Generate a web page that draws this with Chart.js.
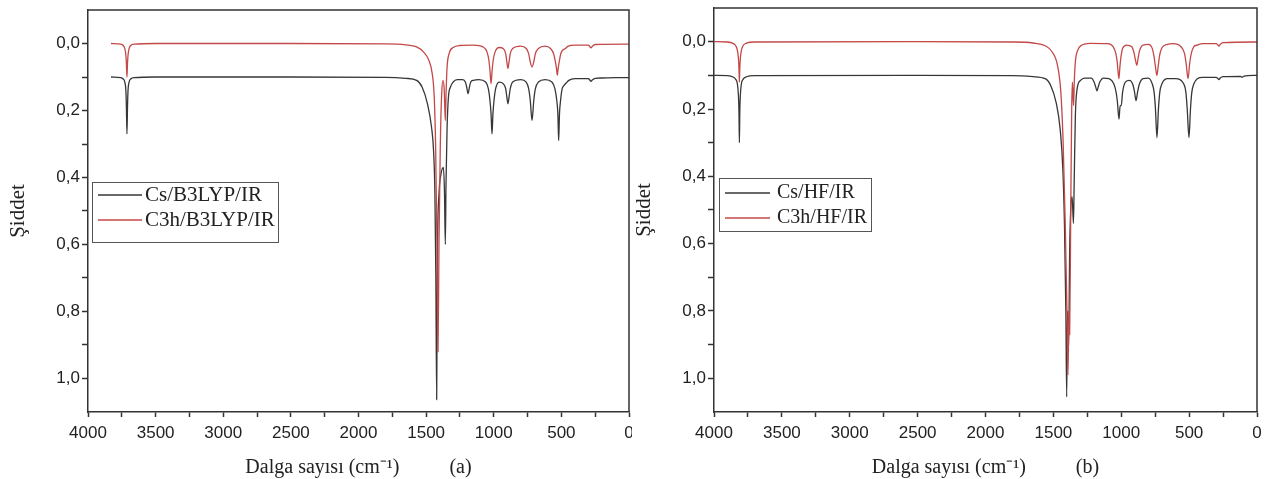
<!DOCTYPE html>
<html>
<head>
<meta charset="utf-8">
<title>IR spektrumları</title>
<script src="https://cdn.jsdelivr.net/npm/chart.js@4.4.1/dist/chart.umd.min.js"></script>
<style>
  body { margin: 0; background: #fff; }
  #wrap { position: relative; width: 1269px; height: 479px; overflow: hidden; }
  canvas { position: absolute; top: 0; }
</style>
</head>
<body>
<div id="wrap">
  <canvas id="chartA" width="632" height="479" style="left:0px"></canvas>
  <canvas id="chartB" width="637" height="479" style="left:632px"></canvas>
</div>
<script>
// [wavenumber cm-1, intensity]
var csB3lyp = [[3830,0.100],[3760,0.102],[3740,0.106],[3728,0.115],[3720,0.14],[3716,0.19],[3712,0.27],[3708,0.19],[3704,0.14],[3696,0.115],[3684,0.106],[3660,0.102],[3500,0.100],[2500,0.100],[1800,0.101],[1650,0.104],[1570,0.11],[1530,0.13],[1490,0.18],[1460,0.25],[1445,0.32],[1435,0.45],[1428,0.7],[1422,1.063],[1416,0.62],[1405,0.45],[1390,0.39],[1372,0.37],[1364,0.45],[1358,0.6],[1353,0.42],[1345,0.25],[1335,0.16],[1320,0.13],[1300,0.115],[1270,0.108],[1230,0.108],[1210,0.115],[1200,0.13],[1190,0.15],[1180,0.13],[1170,0.115],[1150,0.11],[1110,0.108],[1060,0.115],[1040,0.135],[1028,0.17],[1020,0.21],[1013,0.27],[1006,0.21],[998,0.17],[986,0.135],[960,0.115],[930,0.12],[912,0.135],[903,0.16],[895,0.18],[887,0.16],[878,0.135],[860,0.115],[800,0.108],[760,0.115],[742,0.135],[730,0.17],[717,0.23],[704,0.17],[692,0.135],[670,0.115],[620,0.108],[570,0.115],[548,0.135],[534,0.17],[526,0.21],[520,0.29],[514,0.21],[506,0.17],[494,0.135],[480,0.125],[465,0.118],[445,0.11],[400,0.105],[300,0.105],[290,0.109],[281,0.113],[272,0.109],[250,0.104],[200,0.103],[100,0.102],[0,0.102]];
var c3hB3lyp = [[3830,0.0],[3760,0.002],[3740,0.006],[3728,0.015],[3720,0.035],[3716,0.06],[3712,0.10],[3708,0.06],[3704,0.035],[3696,0.015],[3684,0.006],[3660,0.002],[3500,0.0],[2500,0.0],[1800,0.001],[1650,0.004],[1570,0.01],[1520,0.025],[1480,0.05],[1455,0.09],[1440,0.16],[1430,0.3],[1420,0.6],[1412,0.92],[1405,0.6],[1395,0.3],[1385,0.15],[1375,0.11],[1366,0.14],[1358,0.23],[1352,0.14],[1345,0.07],[1330,0.03],[1300,0.012],[1250,0.006],[1150,0.005],[1080,0.01],[1050,0.025],[1036,0.05],[1028,0.08],[1020,0.12],[1012,0.08],[1004,0.05],[990,0.025],[960,0.012],[930,0.015],[912,0.03],[903,0.055],[895,0.075],[887,0.055],[878,0.03],[860,0.015],[800,0.008],[760,0.015],[742,0.03],[730,0.055],[717,0.07],[704,0.055],[692,0.03],[670,0.015],[620,0.008],[580,0.015],[558,0.03],[544,0.055],[536,0.075],[530,0.095],[524,0.075],[516,0.055],[504,0.03],[490,0.02],[470,0.015],[450,0.008],[400,0.005],[300,0.005],[290,0.009],[281,0.013],[272,0.009],[250,0.003],[0,0.002]];
var csHf = [[4000,0.1],[3900,0.101],[3860,0.105],[3840,0.112],[3828,0.125],[3820,0.16],[3816,0.21],[3813,0.30],[3810,0.21],[3806,0.16],[3798,0.125],[3786,0.112],[3765,0.105],[3700,0.101],[2500,0.1],[1800,0.101],[1650,0.104],[1560,0.11],[1520,0.13],[1480,0.18],[1450,0.26],[1430,0.38],[1418,0.55],[1408,0.8],[1402,1.055],[1396,0.8],[1388,0.92],[1380,0.62],[1370,0.48],[1362,0.46],[1352,0.54],[1346,0.4],[1338,0.22],[1325,0.14],[1300,0.115],[1270,0.108],[1220,0.108],[1200,0.12],[1188,0.135],[1179,0.146],[1170,0.135],[1158,0.12],[1130,0.108],[1090,0.11],[1055,0.125],[1038,0.15],[1028,0.18],[1017,0.23],[1008,0.19],[1000,0.19],[990,0.15],[970,0.12],[940,0.115],[914,0.128],[902,0.15],[891,0.175],[880,0.15],[868,0.128],[840,0.11],[800,0.108],[772,0.125],[758,0.15],[748,0.2],[737,0.285],[726,0.2],[716,0.15],[700,0.125],[660,0.11],[600,0.11],[540,0.125],[524,0.15],[514,0.2],[501,0.285],[490,0.2],[480,0.15],[465,0.125],[440,0.11],[400,0.106],[300,0.106],[290,0.109],[280,0.113],[271,0.108],[250,0.104],[120,0.103],[110,0.106],[100,0.103],[0,0.1]];
var c3hHf = [[4000,0.0],[3900,0.001],[3860,0.005],[3840,0.012],[3828,0.025],[3820,0.05],[3816,0.08],[3813,0.12],[3810,0.08],[3806,0.05],[3798,0.025],[3786,0.012],[3765,0.005],[3700,0.001],[2500,0.0],[1800,0.001],[1650,0.004],[1560,0.012],[1510,0.03],[1470,0.07],[1445,0.15],[1428,0.3],[1412,0.55],[1400,0.8],[1392,0.99],[1386,0.8],[1380,0.87],[1372,0.5],[1365,0.2],[1360,0.12],[1355,0.16],[1351,0.19],[1346,0.12],[1338,0.06],[1320,0.025],[1290,0.01],[1230,0.005],[1100,0.006],[1060,0.015],[1040,0.035],[1030,0.06],[1022,0.095],[1017,0.11],[1010,0.075],[1002,0.045],[990,0.02],[960,0.01],[922,0.015],[905,0.035],[895,0.055],[885,0.07],[876,0.05],[866,0.028],[840,0.01],[800,0.008],[772,0.02],[758,0.045],[748,0.075],[737,0.1],[727,0.07],[717,0.04],[700,0.018],[660,0.008],[620,0.006],[560,0.015],[534,0.035],[522,0.065],[508,0.11],[496,0.065],[484,0.035],[465,0.015],[440,0.01],[400,0.006],[300,0.006],[290,0.009],[280,0.013],[271,0.008],[250,0.003],[0,0.001]];

// ticks (labels only on every second one)
var xTicks = [0,250,500,750,1000,1250,1500,1750,2000,2250,2500,2750,3000,3250,3500,3750,4000];
var yTicks = [0,0.1,0.2,0.3,0.4,0.5,0.6,0.7,0.8,0.9,1.0];

var axisColor = '#333';
var darkLine = 'rgb(55,55,55)';
var redLine = 'rgb(196,72,72)';
var serif = '"Liberation Serif", "Times New Roman", serif';

function toPoints(pairs) {
    return pairs.map(function(p) { return {x: p[0], y: p[1]}; });
}

// box round the plot (top and right sides)
var framePlugin = {
    id: 'frame',
    afterDraw: function(chart) {
        var a = chart.chartArea, ctx = chart.ctx;
        ctx.save();
        ctx.strokeStyle = axisColor;
        ctx.lineWidth = 1.5;
        ctx.beginPath();
        ctx.moveTo(a.left, a.top);
        ctx.lineTo(a.right, a.top);
        ctx.lineTo(a.right, a.bottom);
        ctx.stroke();
        ctx.restore();
    }
};

// legend in a framed box inside the plot
var boxLegend = {
    id: 'boxLegend',
    afterDraw: function(chart, args, opts) {
        var ctx = chart.ctx;
        ctx.save();
        ctx.strokeStyle = '#555';
        ctx.lineWidth = 1;
        ctx.strokeRect(opts.x + 0.5, opts.y + 0.5, opts.w, opts.h);
        ctx.font = opts.fontSize + 'px ' + serif;
        ctx.textBaseline = 'middle';
        chart.data.datasets.forEach(function(ds, i) {
            var y = opts.rows[i];
            ctx.strokeStyle = ds.borderColor;
            ctx.lineWidth = 1.3;
            ctx.beginPath();
            ctx.moveTo(opts.lineFrom, y);
            ctx.lineTo(opts.lineTo, y);
            ctx.stroke();
            ctx.fillStyle = '#222';
            ctx.fillText(ds.label, opts.textX, y);
        });
        ctx.restore();
    }
};

function spectrumChart(id, blackSeries, redSeries, labels, cfg) {
    return new Chart(document.getElementById(id), {
        type: 'line',
        data: {
            datasets: [{
                label: labels[0],
                data: toPoints(blackSeries),
                borderColor: darkLine,
                borderWidth: 1.3,
                pointRadius: 0,
                cubicInterpolationMode: 'monotone',
                order: 1
            }, {
                label: labels[1],
                data: toPoints(redSeries),
                borderColor: redLine,
                borderWidth: 1.3,
                pointRadius: 0,
                cubicInterpolationMode: 'monotone',
                order: 0
            }]
        },
        options: {
            responsive: false,
            animation: false,
            layout: { padding: { top: cfg.top, right: cfg.right, left: 0, bottom: 0 } },
            plugins: {
                legend: { display: false },
                tooltip: { enabled: false },
                boxLegend: cfg.legend
            },
            scales: {
                x: {
                    type: 'linear',
                    reverse: true,
                    min: 0,
                    max: 4000,
                    afterBuildTicks: function(s) { s.ticks = xTicks.map(function(v) { return {value: v}; }); },
                    afterFit: function(s) { s.height = 67; s.paddingLeft = 0; s.paddingRight = 0; },
                    ticks: {
                        autoSkip: false,
                        maxRotation: 0,
                        padding: 6,
                        color: '#222',
                        font: { family: '"Liberation Sans", Arial, sans-serif', size: 17 },
                        callback: function(v) { return v % 500 === 0 ? String(v) : ''; }
                    },
                    grid: { drawOnChartArea: false, tickLength: 5, tickColor: axisColor, tickWidth: 1.5 },
                    border: { color: axisColor, width: 1.5 },
                    title: {
                        display: true,
                        text: cfg.xTitle,
                        color: '#222',
                        font: { family: serif, size: 20, lineHeight: 1 },
                        padding: { top: 0, bottom: 1 }
                    }
                },
                y: {
                    reverse: true,
                    min: -0.1,
                    max: 1.1,
                    afterBuildTicks: function(s) { s.ticks = yTicks.map(function(v) { return {value: v}; }); },
                    afterFit: function(s) { s.width = cfg.yWidth; s.paddingTop = 0; s.paddingBottom = 0; },
                    ticks: {
                        padding: 2,
                        color: '#222',
                        font: { family: '"Liberation Sans", Arial, sans-serif', size: 17 },
                        callback: function(v) {
                            var k = Math.round(v * 10);
                            return k % 2 === 0 ? (k / 10).toFixed(1).replace('.', ',') : '';
                        }
                    },
                    grid: { drawOnChartArea: false, tickLength: 6, tickColor: axisColor, tickWidth: 1.5 },
                    border: { color: axisColor, width: 1.5 },
                    title: {
                        display: true,
                        text: 'Şiddet',
                        color: '#222',
                        font: { family: serif, size: 21, lineHeight: 1 },
                        padding: { top: cfg.yTitlePad, bottom: 0 }
                    }
                }
            }
        },
        plugins: [framePlugin, boxLegend]
    });
}

spectrumChart('chartA', csB3lyp, c3hB3lyp, ['Cs/B3LYP/IR', 'C3h/B3LYP/IR'], {
    top: 10, right: 3, yWidth: 88, yTitlePad: 7.5,
    xTitle: 'Dalga sayısı (cm\u207B\u00B9)          (a)',
    legend: { x: 92, y: 182, w: 186, h: 60, lineFrom: 98, lineTo: 142, textX: 145, rows: [195, 220], fontSize: 21 }
});

spectrumChart('chartB', csHf, c3hHf, ['Cs/HF/IR', 'C3h/HF/IR'], {
    top: 8, right: 12, yWidth: 82, yTitlePad: 2,
    xTitle: 'Dalga sayısı (cm\u207B\u00B9)          (b)',
    legend: { x: 87, y: 178, w: 152, h: 53, lineFrom: 93, lineTo: 138, textX: 145, rows: [193, 218], fontSize: 20 }
});
</script>
</body>
</html>
